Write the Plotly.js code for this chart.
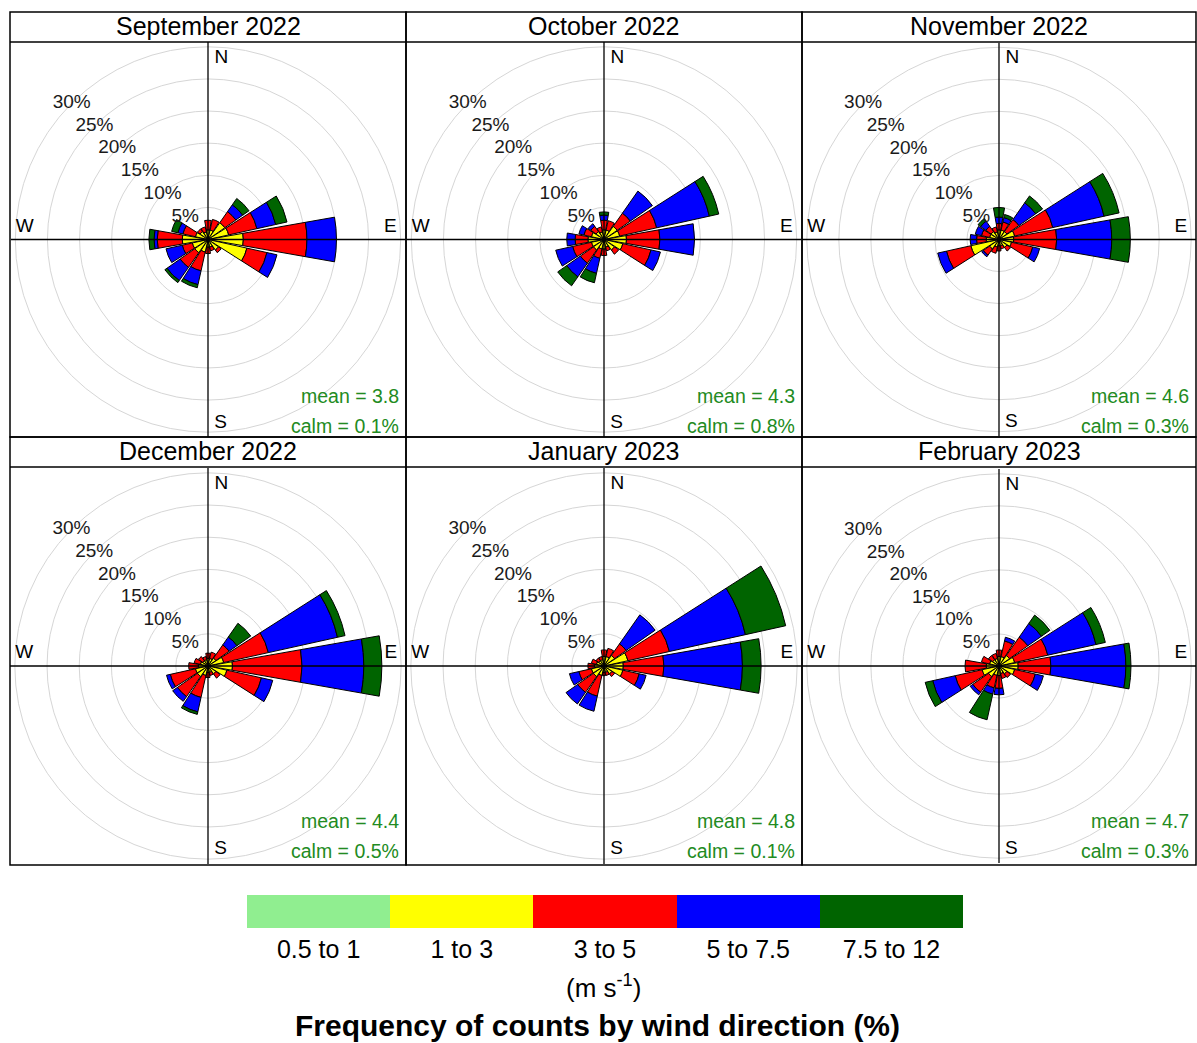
<!DOCTYPE html>
<html><head><meta charset="utf-8">
<script src="https://cdn.plot.ly/plotly-3.0.1.min.js"></script>
<style>html,body{margin:0;padding:0;background:#fff}#chart{width:1197px;height:1043px}</style>
</head><body><div id="chart"></div>
<script>
// ---------- data ----------
const directions = [0,22.5,45,67.5,90,112.5,135,157.5,180,202.5,225,247.5,270,292.5,315,337.5];
const speedBins = ['0.5 to 1','1 to 3','3 to 5','5 to 7.5','7.5 to 12'];
const panelTitles = ['September 2022','October 2022','November 2022','December 2022','January 2023','February 2023'];
const meanSpeed = [3.8, 4.3, 4.6, 4.4, 4.8, 4.7];
const calmPct = [0.1, 0.8, 0.3, 0.5, 0.1, 0.3];
const ringTicks = [5,10,15,20,25,30];
const compassLabels = ['N','E','S','W'];

// frequency (%) per direction, one row per speed bin
const sep2022 = [
  [0.1,0.1,0.1,0.1,0.1,0.1,0.1,0.1,0.1,0.1,0.1,0.1,0.1,0.1,0.1,0.1],
  [1.4,1.4,3.1,3.2,5.4,6.1,1.9,1.1,1.1,1.9,2.4,2.4,3.9,1.9,1.4,1.1],
  [1.5,1.7,2.1,4.5,9.9,3.2,0.5,0.6,1.0,3.0,2.8,1.6,3.9,2.0,0.5,0.8],
  [0,0,1.3,3.0,4.6,1.6,0,0,0,2.2,2.5,2.6,0.5,0.8,0,0],
  [0,0,1.2,1.8,0,0,0,0,0,0.5,0.4,0,0.8,1.0,0,0]
];
const oct2022 = [
  [0.1,0.1,0.1,0.1,0.1,0.1,0.1,0.1,0.1,0.1,0.1,0.1,0.1,0.1,0.1,0.1],
  [1.4,1.4,2.4,2.4,3.4,2.9,1.9,1.1,1.4,1.4,1.9,1.9,2.4,1.9,1.4,1.1],
  [1.5,1.5,2.5,5.9,5.2,4.5,0.8,0.6,1.0,1.5,2.5,3.0,2.0,1.2,1.0,0.8],
  [0.8,0,4.2,8.4,5.4,1.5,0,0,0,2.4,2.6,2.7,1.3,0.8,0.5,0],
  [0.5,0,0,1.5,0,0,0,0,0,1.5,1.7,0,0,0,0,0]
];
const nov2022 = [
  [0.1,0.1,0.1,0.1,0.1,0.1,0.1,0.1,0.1,0.1,0.1,0.1,0.1,0.1,0.1,0.1],
  [1.4,1.4,1.4,2.4,2.2,1.9,1.4,0.9,0.9,1.1,1.7,4.4,1.9,1.4,1.4,1.1],
  [1.0,1.3,2.3,6.1,6.7,3.4,0.7,0.5,0.8,1.0,1.2,3.9,1.5,1.3,1.0,0.8],
  [1.0,0.7,3.2,8.2,8.6,1.1,0,0,0,0,0.3,1.4,1.0,1.0,1.0,0],
  [1.5,0.5,1.3,2.4,2.9,0,0,0,0,0,0,0,0,0,0.5,0]
];
const dec2022 = [
  [0.1,0.1,0.1,0.1,0.1,0.1,0.1,0.1,0.1,0.1,0.1,0.1,0.1,0.1,0.1,0.1],
  [1.1,1.1,1.4,2.4,3.7,2.9,1.4,0.9,0.9,1.4,1.9,1.9,1.4,1.1,0.9,0.9],
  [0.8,1.0,2.5,7.1,10.8,5.5,0.8,0.5,0.8,3.5,3.8,4.0,1.5,1.0,0.8,0.5],
  [0,0,1.5,11.0,9.6,1.8,0,0,0,2.3,0.9,0.6,0,0,0,0],
  [0,0,2.6,1.2,2.8,0,0,0,0,0.4,0,0,0,0,0,0]
];
const jan2023 = [
  [0.1,0.1,0.1,0.1,0.1,0.1,0.1,0.1,0.1,0.1,0.1,0.1,0.1,0.1,0.1,0.1],
  [1.4,1.4,1.9,3.7,2.9,2.9,1.4,0.9,0.9,1.4,1.9,1.9,1.4,1.1,0.9,0.9],
  [1.0,1.3,2.2,6.6,6.3,2.6,0.5,0.5,0.5,3.3,3.0,2.0,1.0,0.8,0.5,0.5],
  [0,0,5.5,12.1,12.2,1.1,0,0,0,2.4,2.2,1.5,0,0,0,0],
  [0,0,0,6.4,2.9,0,0,0,0,0,0,0,0,0,0,0]
];
const feb2023 = [
  [0.1,0.1,0.1,0.1,0.1,0.1,0.1,0.1,0.1,0.1,0.1,0.1,0.1,0.1,0.1,0.1],
  [1.4,1.4,1.9,2.4,2.9,2.4,1.4,1.1,1.4,1.4,1.9,2.6,1.9,1.4,1.1,1.1],
  [1.0,2.5,3.5,5.3,5.1,3.3,0.7,0.8,2.0,2.0,3.0,4.3,3.3,1.3,0.8,0.8],
  [0,0.6,2.6,7.7,11.7,1.3,0,0,1.0,1.0,0.5,3.6,0,0,0,0],
  [0,0,1.6,1.5,0.8,0,0,0,0,4.1,0,1.2,0,0,0,0]
];
const monthly = [sep2022, oct2022, nov2022, dec2022, jan2023, feb2023];

// ---------- styles / layout ----------
const binColors = ['#90EE90','#FFFF00','#FF0000','#0000FF','#006400'];
const W = 1197, H = 1043;
const colX = [10, 406, 802, 1196];
const rows = [{strip:12, top:42, bottom:437}, {strip:437, top:467, bottom:865}];
const RMAX = 30.75;
// compass label placement (radius, angle) just beside the axis cross
const compassR = [28.3, 28.45, 28.6, 28.6];
const compassTheta = [4.2, 86.1, 176.1, 273.9];
const FONT = 'Liberation Sans, Arial, Helvetica, sans-serif';
const px = x => x / W;
const py = y => 1 - y / H;

const traces = [];
const layout = {
  width: W, height: H,
  margin: {l:0, r:0, t:0, b:0},
  paper_bgcolor: 'white', plot_bgcolor: 'white',
  showlegend: false,
  font: {family: FONT, color: '#000'},
  shapes: [], annotations: [],
  bargap: 0
};

monthly.forEach((data, p) => {
  const c = p % 3, rw = rows[Math.floor(p / 3)];
  const sp = p === 0 ? 'polar' : 'polar' + (p + 1);
  data.forEach((vals, k) => {
    traces.push({
      type: 'barpolar', subplot: sp,
      r: vals.map(v => v > 0 ? v : null), theta: directions,
      width: 20,
      marker: {color: binColors[k], line: {color: 'black', width: 1}},
      hoverinfo: 'skip'
    });
  });
  // N-S / E-W axis cross
  traces.push({
    type: 'scatterpolar', subplot: sp, mode: 'lines',
    r: [RMAX, RMAX, null, RMAX, RMAX], theta: [0, 180, null, 90, 270],
    line: {color: 'black', width: 1.3}, hoverinfo: 'skip', cliponaxis: false
  });
  // ring labels
  traces.push({
    type: 'scatterpolar', subplot: sp, mode: 'text',
    r: ringTicks, theta: ringTicks.map(() => 315),
    text: ringTicks.map(t => t + '%'),
    textfont: {size: 19, color: '#1a1a1a', family: FONT},
    textposition: 'middle center', hoverinfo: 'skip', cliponaxis: false
  });
  // compass labels
  traces.push({
    type: 'scatterpolar', subplot: sp, mode: 'text',
    r: compassR, theta: compassTheta,
    text: compassLabels,
    textfont: {size: 19, color: '#000', family: FONT},
    textposition: 'middle center',
    hoverinfo: 'skip', cliponaxis: false
  });

  layout[sp] = {
    domain: {x: [px(colX[c]), px(colX[c + 1])], y: [py(rw.bottom), py(rw.top)]},
    bgcolor: 'white', barmode: 'stack', hole: 0,
    radialaxis: {range: [0, RMAX], tickvals: ringTicks, showticklabels: false, ticks: '',
                 showline: false, gridcolor: '#d6d6d6', gridwidth: 1},
    angularaxis: {rotation: 90, direction: 'clockwise', showgrid: false,
                  showticklabels: false, ticks: '', showline: false}
  };

  // panel frame and strip
  layout.shapes.push({type: 'rect', xref: 'paper', yref: 'paper',
    x0: px(colX[c]), x1: px(colX[c + 1]), y0: py(rw.bottom), y1: py(rw.strip),
    line: {color: 'black', width: 1.5}, layer: 'above'});
  layout.shapes.push({type: 'line', xref: 'paper', yref: 'paper',
    x0: px(colX[c]), x1: px(colX[c + 1]), y0: py(rw.top), y1: py(rw.top),
    line: {color: 'black', width: 1.5}, layer: 'above'});

  layout.annotations.push({xref: 'paper', yref: 'paper', showarrow: false,
    x: px((colX[c] + colX[c + 1]) / 2), xanchor: 'center', y: py(rw.strip + 14), yanchor: 'middle',
    text: panelTitles[p], font: {size: 25, color: '#000', family: FONT}});
  layout.annotations.push({xref: 'paper', yref: 'paper', showarrow: false,
    x: px(colX[c + 1] - 5), xanchor: 'right', y: py(rw.top + 354), yanchor: 'middle',
    text: 'mean = ' + meanSpeed[p], font: {size: 19.5, color: '#228B22', family: FONT}});
  layout.annotations.push({xref: 'paper', yref: 'paper', showarrow: false,
    x: px(colX[c + 1] - 5), xanchor: 'right', y: py(rw.top + 384), yanchor: 'middle',
    text: 'calm = ' + calmPct[p] + '%', font: {size: 19.5, color: '#228B22', family: FONT}});
});

// colour key
traces.push({
  type: 'bar', x: speedBins, y: speedBins.map(() => 1), width: 1,
  marker: {color: binColors, line: {width: 0}}, hoverinfo: 'skip', xaxis: 'x', yaxis: 'y'
});
layout.xaxis = {domain: [px(247), px(963)], range: [-0.5, 4.5], type: 'category',
  showgrid: false, zeroline: false, showline: false, ticks: '', ticklabelstandoff: 4,
  tickfont: {size: 25, color: '#000', family: FONT}, fixedrange: true};
layout.yaxis = {domain: [py(928), py(895)], range: [0, 1], visible: false, fixedrange: true};
layout.annotations.push({xref: 'paper', yref: 'paper', showarrow: false,
  x: px(603), xanchor: 'center', y: py(986), yanchor: 'middle',
  text: '(m s<sup>-1</sup>)', font: {size: 26, color: '#000', family: FONT}});
layout.annotations.push({xref: 'paper', yref: 'paper', showarrow: false,
  x: px(597), xanchor: 'center', y: py(1025), yanchor: 'middle',
  text: '<b>Frequency of counts by wind direction (%)</b>', font: {size: 30, color: '#000', family: FONT}});

Plotly.newPlot('chart', traces, layout, {displayModeBar: false, staticPlot: true});
</script>
</body></html>
